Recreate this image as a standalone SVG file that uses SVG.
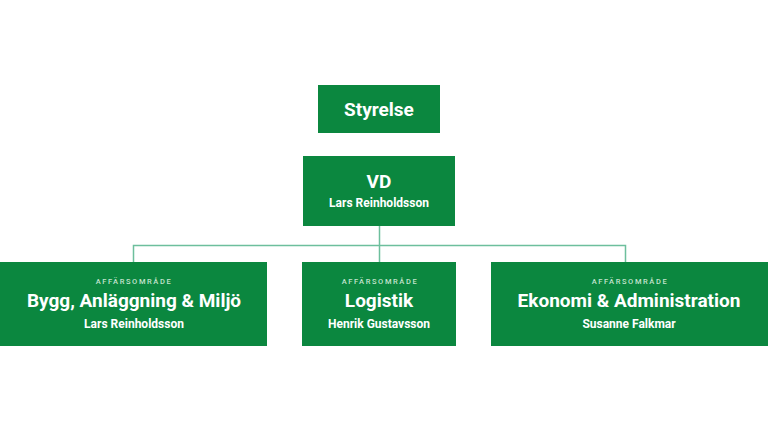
<svg xmlns="http://www.w3.org/2000/svg" width="768" height="432" viewBox="0 0 768 432">
<style>
.box{fill:#0b873f}
.t{font-family:Roboto,"Liberation Sans",sans-serif;fill:#fff;text-anchor:middle;font-weight:700}
.big{font-size:19px}
.nm{font-size:12px}
.lab{font-size:7.5px;font-weight:500;letter-spacing:1.6px;fill:#c2e3cd}
.ln{fill:none;stroke:#6dbf9d;stroke-width:1.5}
</style>
<rect width="768" height="432" fill="#fff"/>
<g id="connectors">
<path class="ln" d="M379.5 226V245.5M133.5 262V245.5H625.5V262M379.5 245.5V262"/>
</g>
<g id="styrelse">
<rect class="box" x="318" y="85" width="122" height="48"/>
<text class="t big" x="379" y="116">Styrelse</text>
</g>
<g id="vd">
<rect class="box" x="303" y="156" width="152" height="70"/>
<text class="t big" x="379" y="188">VD</text>
<text class="t nm" x="379" y="207">Lars Reinholdsson</text>
</g>
<g id="bygg">
<rect class="box" x="0" y="262" width="267" height="84"/>
<text class="t lab" x="134" y="284">AFFÄRSOMRÅDE</text>
<text class="t big" x="134" y="307">Bygg, Anläggning &amp; Miljö</text>
<text class="t nm" x="134" y="328">Lars Reinholdsson</text>
</g>
<g id="logistik">
<rect class="box" x="302" y="262" width="154" height="84"/>
<text class="t lab" x="380" y="284">AFFÄRSOMRÅDE</text>
<text class="t big" x="379" y="307">Logistik</text>
<text class="t nm" x="379" y="328">Henrik Gustavsson</text>
</g>
<g id="ekonomi">
<rect class="box" x="491" y="262" width="277" height="84"/>
<text class="t lab" x="630" y="284">AFFÄRSOMRÅDE</text>
<text class="t big" x="629" y="307">Ekonomi &amp; Administration</text>
<text class="t nm" x="629" y="328">Susanne Falkmar</text>
</g>
</svg>
